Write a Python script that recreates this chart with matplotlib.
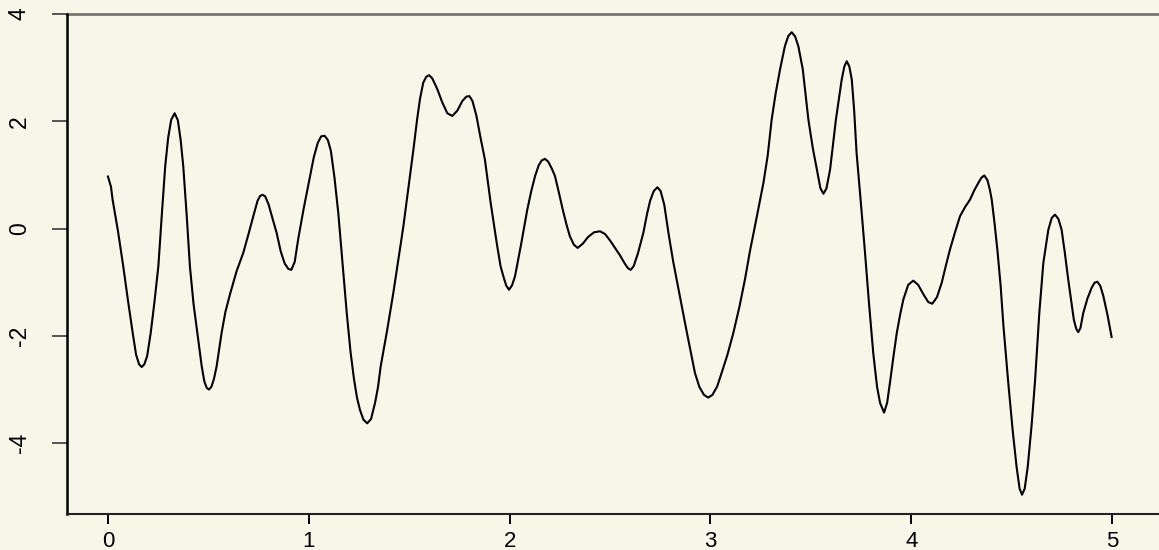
"""
Wiggly line on a beige panel, R base-graphics look
"""

import matplotlib
matplotlib.use("Agg")
import matplotlib.pyplot as plt

# values
xs = [0.000, 0.015, 0.023, 0.050, 0.076, 0.100, 0.123, 0.140, 0.155, 0.168,
      0.181, 0.195, 0.213, 0.232, 0.251, 0.268, 0.285, 0.300, 0.315, 0.332,
      0.348, 0.362, 0.375, 0.392, 0.408, 0.426, 0.445, 0.467, 0.480, 0.492,
      0.503, 0.515, 0.528, 0.541, 0.566, 0.585, 0.608, 0.640, 0.674, 0.700,
      0.720, 0.745, 0.758, 0.770, 0.783, 0.800, 0.820, 0.840, 0.860, 0.880,
      0.898, 0.913, 0.930, 0.948, 0.975, 1.003, 1.025, 1.045, 1.062, 1.079,
      1.095, 1.110, 1.128, 1.147, 1.168, 1.189, 1.208, 1.225, 1.240, 1.255,
      1.272, 1.291, 1.310, 1.330, 1.345, 1.358, 1.390, 1.421, 1.446, 1.471,
      1.496, 1.521, 1.540, 1.554, 1.570, 1.585, 1.599, 1.615, 1.640, 1.665,
      1.690, 1.715, 1.740, 1.765, 1.785, 1.800, 1.815, 1.835, 1.855, 1.877,
      1.905, 1.936, 1.955, 1.969, 1.983, 1.997, 2.012, 2.027, 2.058, 2.088,
      2.108, 2.127, 2.145, 2.160, 2.176, 2.192, 2.210, 2.226, 2.245, 2.265,
      2.283, 2.300, 2.320, 2.339, 2.365, 2.390, 2.420, 2.450, 2.475, 2.500,
      2.525, 2.550, 2.575, 2.590, 2.603, 2.618, 2.640, 2.666, 2.685, 2.700,
      2.718, 2.736, 2.752, 2.770, 2.792, 2.815, 2.850, 2.882, 2.923, 2.945,
      2.968, 2.989, 3.010, 3.033, 3.056, 3.085, 3.114, 3.145, 3.172, 3.197,
      3.230, 3.264, 3.285, 3.305, 3.325, 3.347, 3.371, 3.388, 3.405, 3.422,
      3.438, 3.460, 3.488, 3.510, 3.530, 3.548, 3.563, 3.578, 3.596, 3.625,
      3.654, 3.667, 3.679, 3.692, 3.704, 3.716, 3.728, 3.750, 3.770, 3.790,
      3.811, 3.830, 3.845, 3.865, 3.880, 3.894, 3.911, 3.928, 3.945, 3.961,
      3.985, 4.010, 4.035, 4.060, 4.085, 4.105, 4.128, 4.152, 4.172, 4.193,
      4.218, 4.243, 4.268, 4.293, 4.315, 4.334, 4.350, 4.364, 4.380, 4.392,
      4.401, 4.415, 4.429, 4.445, 4.459, 4.484, 4.505, 4.525, 4.540, 4.552,
      4.565, 4.580, 4.600, 4.617, 4.638, 4.658, 4.683, 4.700, 4.716, 4.733,
      4.749, 4.765, 4.782, 4.810, 4.822, 4.832, 4.843, 4.857, 4.878, 4.899,
      4.913, 4.927, 4.942, 4.957, 4.978, 4.998]
ys = [0.97, 0.78, 0.54, -0.05, -0.70, -1.35, -1.94, -2.35, -2.53, -2.58,
      -2.53, -2.38, -1.94, -1.35, -0.70, 0.25, 1.16, 1.70, 2.03, 2.15,
      2.02, 1.65, 1.16, 0.25, -0.70, -1.40, -1.94, -2.57, -2.85, -2.97,
      -3.00, -2.95, -2.80, -2.57, -1.94, -1.55, -1.22, -0.80, -0.45, -0.10,
      0.18, 0.52, 0.61, 0.63, 0.60, 0.45, 0.18, -0.08, -0.42, -0.65,
      -0.75, -0.77, -0.62, -0.18, 0.38, 0.91, 1.33, 1.60, 1.72, 1.73,
      1.65, 1.45, 0.95, 0.29, -0.65, -1.57, -2.30, -2.80, -3.15, -3.38,
      -3.56, -3.63, -3.55, -3.25, -2.95, -2.57, -1.90, -1.20, -0.58, 0.04,
      0.75, 1.47, 2.05, 2.42, 2.72, 2.83, 2.86, 2.80, 2.60, 2.35,
      2.15, 2.10, 2.20, 2.38, 2.46, 2.47, 2.38, 2.10, 1.70, 1.29,
      0.50, -0.27, -0.70, -0.89, -1.06, -1.14, -1.06, -0.89, -0.28, 0.35,
      0.70, 0.98, 1.18, 1.27, 1.30, 1.25, 1.12, 0.98, 0.68, 0.35,
      0.08, -0.14, -0.30, -0.36, -0.28, -0.16, -0.07, -0.05, -0.10, -0.22,
      -0.36, -0.50, -0.66, -0.74, -0.77, -0.70, -0.45, -0.08, 0.28, 0.52,
      0.70, 0.77, 0.70, 0.45, -0.10, -0.62, -1.30, -1.92, -2.69, -2.95,
      -3.10, -3.15, -3.10, -2.95, -2.69, -2.35, -1.95, -1.45, -0.95, -0.42,
      0.20, 0.85, 1.35, 2.03, 2.52, 2.97, 3.40, 3.59, 3.66, 3.58,
      3.40, 2.97, 2.03, 1.50, 1.10, 0.75, 0.65, 0.75, 1.10, 2.03,
      2.78, 3.02, 3.12, 3.02, 2.78, 2.20, 1.41, 0.45, -0.45, -1.40,
      -2.32, -2.95, -3.25, -3.43, -3.25, -2.88, -2.40, -1.95, -1.60, -1.32,
      -1.05, -0.97, -1.05, -1.22, -1.37, -1.40, -1.28, -1.01, -0.70, -0.39,
      -0.07, 0.23, 0.40, 0.54, 0.72, 0.85, 0.95, 0.99, 0.90, 0.72,
      0.54, 0.10, -0.39, -1.05, -1.80, -2.90, -3.75, -4.45, -4.85, -4.96,
      -4.85, -4.45, -3.65, -2.82, -1.57, -0.64, -0.02, 0.20, 0.26, 0.18,
      -0.02, -0.45, -0.95, -1.70, -1.87, -1.93, -1.85, -1.57, -1.30, -1.10,
      -1.01, -0.99, -1.07, -1.26, -1.62, -2.02]

x_ticks = [0, 1, 2, 3, 4, 5]
y_ticks = [-4, -2, 0, 2, 4]

bg = "#f7f7e9"


def main():
    plt.rcParams['font.family'] = ['Liberation Sans', 'DejaVu Sans']

    fig = plt.figure(figsize=(11.59, 5.5), dpi=100, facecolor=bg)
    ax = fig.add_axes([67 / 1159, 36 / 550, 1 - 67 / 1159, 500 / 550])
    ax.set_facecolor(bg)

    ax.plot(xs, ys, color="black", lw=1.5, solid_joinstyle="round")
    ax.axhline(4, color="#777770", lw=2, clip_on=False)

    ax.set_xlim(-0.204, 5.234)
    ax.set_ylim(-5.32, 4)

    ax.set_xticks(x_ticks)
    ax.set_xticklabels([str(v) for v in x_ticks])
    ax.set_yticks(y_ticks)
    ax.set_yticklabels([str(v) for v in y_ticks], rotation=90, va="center")

    ax.tick_params(axis="x", length=7.2, width=1.4, color="black", pad=5,
                   labelsize=16)
    ax.tick_params(axis="y", length=11, width=1.4, color="#555555", pad=15,
                   labelsize=16.5)

    for side in ["top", "right"]:
        ax.spines[side].set_visible(False)
    ax.spines["left"].set_linewidth(1.8)
    ax.spines["bottom"].set_linewidth(1.5)
    ax.spines["bottom"].set_color("#222222")

    fig.savefig("out.png", dpi=100, facecolor=bg)


if __name__ == '__main__':
    main()
